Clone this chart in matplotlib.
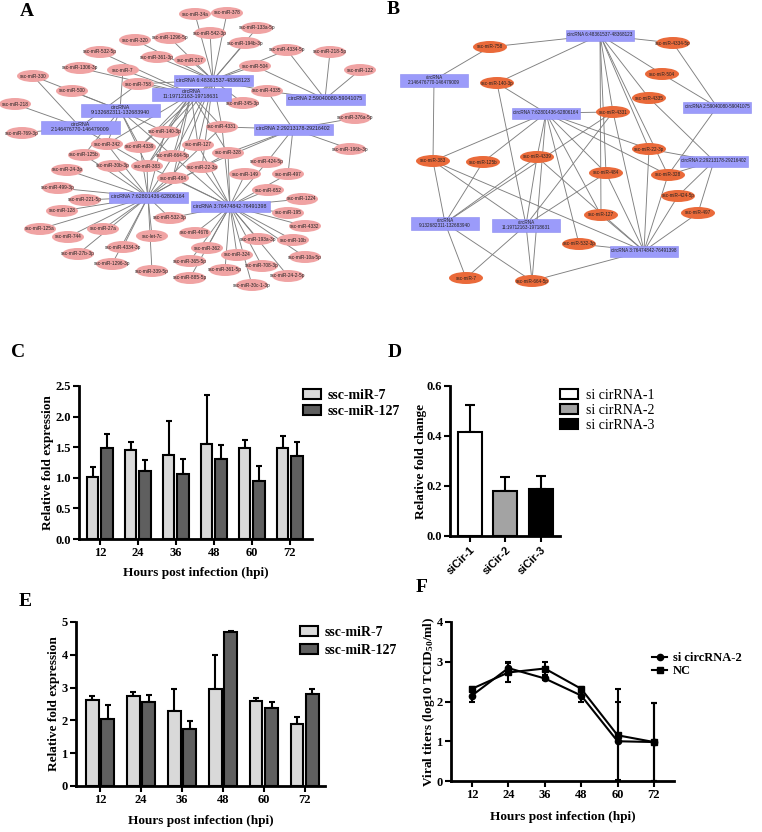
import matplotlib
matplotlib.use('Agg')
import matplotlib.pyplot as plt
from matplotlib.patches import Ellipse, Rectangle, Patch
from matplotlib.lines import Line2D
import numpy as np

plt.rcParams['font.family'] = ['Liberation Serif', 'DejaVu Serif']
plt.rcParams['mathtext.fontset'] = 'custom'
plt.rcParams['mathtext.rm'] = 'Liberation Serif:bold'
plt.rcParams['mathtext.bf'] = 'Liberation Serif:bold'
plt.rcParams['mathtext.it'] = 'Liberation Serif:bold'
plt.rcParams['mathtext.default'] = 'rm'

#### data ####

hours = ['12', '24', '36', '48', '60', '72']
hpi = [12, 24, 36, 48, 60, 72]

# C: qPCR, first series
c_mir7 = [1.01, 1.46, 1.37, 1.55, 1.49, 1.48]
c_mir7_err = [0.16, 0.13, 0.56, 0.80, 0.12, 0.21]
c_mir127 = [1.49, 1.11, 1.06, 1.30, 0.95, 1.36]
c_mir127_err = [0.23, 0.18, 0.25, 0.23, 0.24, 0.22]

# D: siRNA knockdown
d_groups = ['siCir-1', 'siCir-2', 'siCir-3']
d_names = ['si cirRNA-1', 'si cirRNA-2', 'si cirRNA-3']
d_vals = [0.415, 0.181, 0.189]
d_err = [0.109, 0.055, 0.050]

# E: qPCR, second series
e_mir7 = [2.62, 2.75, 2.28, 2.97, 2.60, 1.90]
e_mir7_err = [0.12, 0.12, 0.67, 1.02, 0.07, 0.21]
e_mir127 = [2.03, 2.57, 1.75, 4.70, 2.39, 2.81]
e_mir127_err = [0.45, 0.20, 0.24, 0.02, 0.16, 0.15]

# F: viral titers
f_si = [2.15, 2.84, 2.58, 2.15, 1.00, 0.98]
f_si_err = [0.17, 0.16, 0.05, 0.17, 0.98, 0.99]
f_nc = [2.32, 2.73, 2.83, 2.32, 1.15, 0.98]
f_nc_err = [0.04, 0.24, 0.17, 0.04, 1.17, 0.99]

# network hubs (circRNAs)
hub_names = {
    'c6': 'circRNA 6:48361537-48368123',
    'c11': 'circRNA\n11:19712163-19718631',
    'c9': 'circRNA\n9:132682311-132683940',
    'c2a': 'circRNA\n2:146476770-146479009',
    'c2b': 'circRNA 2:59040080-59041075',
    'c2c': 'circRNA 2:29213178-29216402',
    'c7': 'circRNA 7:62801436-62806164',
    'c3': 'circRNA 3:76474842-76491398',
}

# A: full circRNA-miRNA network
edges_a = {
    'c6': ['34a', '378', '542-3p', '133a-5p', '194b-3p', '4334-5p', '217', '504', '4335',
           '345-3p', '1296-5p', '320', '361-3p', '758', '140-3p', '4331', '127', '22-3p',
           '484', '664-5p', '383', '4339'],
    'c11': ['532-5p', '1306-3p', '7', '758', '140-3p', '4339', '383', '664-5p', '484',
            '127', '4331', '342', '345-3p', '328'],
    'c9': ['500', '330', '7', '125b', '4339', '383', '664-5p', '342', '140-3p'],
    'c2a': ['218', '769-3p', '330', '758', '383'],
    'c2b': ['4334-5p', '218-5p', '122', '504', '4335'],
    'c2c': ['4335', '376a-5p', '196b-3p', '328', '424-5p', '497', '22-3p', '4331'],
    'c7': ['125b', '30b-3p', '383', '484', '24-3p', '499-3p', '221-5p', '128', '125a', '744',
           '27a', 'let-7c', '4334-3p', '27b-3p', '1296-3p', '339-5p', '532-3p', '140-3p',
           '4339', '342', '22-3p', '328', '4331', '664-5p'],
    'c3': ['328', '22-3p', '424-5p', '149', '497', '652', '1224', '195', '4332', '4676',
           '193a-3p', '10b', '362', '10a-5p', '365-5p', '324', '708-3p', '361-5p', '24-2-5p',
           '885-5p', '30c-1-3p', '532-3p', '127', '484', '4331', '664-5p', '383'],
}

# B: shared sub-network
edges_b = {
    'c2a': ['758', '383'],
    'c6': ['758', '140-3p', '4334-5p', '504', '4335', '4331', '22-3p', '127', '484', '328'],
    'c2b': ['4334-5p', '504', '328'],
    'c7': ['140-3p', '383', '125b', '4339', '4331', '22-3p', '484', '127', '328', '532-3p', '664-5p'],
    'c2c': ['4335', '328', '424-5p', '497', '22-3p'],
    'c3': ['532-3p', '127', '484', '328', '424-5p', '497', '22-3p', '4331', '383', '664-5p', '4339'],
    'c9': ['383', '125b', '4339', '7', '664-5p', '4331'],
    'c11': ['140-3p', '383', '4339', '7', '664-5p', '4331', '484'],
}

# layout (pixel positions of the network nodes)
pos_a = {
    'c6': (213, 80), 'c11': (191, 94), 'c9': (120, 110), 'c2a': (80, 127),
    'c2b': (325, 99), 'c2c': (293, 129), 'c7': (148, 197), 'c3': (230, 206),
    '34a': (195, 14), '378': (227, 13), '542-3p': (210, 33), '133a-5p': (257, 28),
    '194b-3p': (245, 43), '4334-5p': (287, 50), '218-5p': (330, 52), '217': (190, 60),
    '504': (255, 66), '122': (360, 70), '4335': (267, 91), '345-3p': (243, 103),
    '376a-5p': (355, 118), '4331': (222, 127), '127': (198, 145), '328': (228, 153),
    '196b-3p': (350, 149), '320': (135, 40), '1296-5p': (170, 38), '532-5p': (100, 52),
    '361-3p': (157, 57), '1306-3p': (80, 68), '7': (123, 70), '330': (33, 76),
    '500': (72, 91), '758': (138, 84), '218': (15, 104), '769-3p': (22, 133),
    '140-3p': (165, 132), '342': (107, 144), '4339': (140, 147), '664-5p': (173, 156),
    '125b': (84, 155), '30b-3p': (113, 166), '383': (147, 166), '484': (173, 178),
    '24-3p': (67, 170), '499-3p': (58, 188), '221-5p': (85, 200), '128': (62, 211),
    '532-3p': (170, 218), '125a': (40, 229), '744': (68, 237), '27a': (103, 229),
    'let-7c': (152, 236), '4334-3p': (123, 247), '27b-3p': (78, 254), '1296-3p': (112, 264),
    '339-5p': (152, 271), '22-3p': (202, 167), '424-5p': (267, 162), '149': (245, 174),
    '497': (288, 174), '652': (268, 190), '1224': (302, 199), '195': (288, 213),
    '4332': (305, 226), '4676': (195, 233), '193a-3p': (258, 239), '10b': (293, 240),
    '362': (207, 248), '10a-5p': (305, 257), '365-5p': (190, 261), '324': (237, 255),
    '708-3p': (262, 266), '361-5p': (225, 270), '24-2-5p': (288, 276), '885-5p': (190, 278),
    '30c-1-3p': (252, 285),
}
pos_b = {
    'c2a': (434, 80), 'c6': (600, 35), 'c7': (546, 113), 'c2b': (717, 107),
    'c2c': (714, 161), 'c9': (445, 223), 'c11': (526, 225), 'c3': (644, 251),
    '758': (490, 47), '140-3p': (497, 83), '4334-5p': (673, 43), '504': (662, 74),
    '4335': (649, 98), '4331': (613, 112), '22-3p': (649, 149), '383': (433, 161),
    '125b': (483, 162), '4339': (537, 157), '484': (606, 173), '328': (668, 175),
    '424-5p': (678, 196), '497': (698, 213), '127': (601, 215), '532-3p': (579, 244),
    '7': (466, 278), '664-5p': (532, 281),
}


def mir_label(k):
    return 'ssc-let-7c' if k == 'let-7c' else 'ssc-miR-' + k


def draw_network(ax, edges, pos, mir_color, ew, eh, box_w, mfs, bfs):
    for hub, mirs in edges.items():
        hx, hy = pos[hub]
        for m in mirs:
            mx, my = pos[m]
            ax.plot([hx, mx], [hy, my], color='#7f7f7f', lw=0.65, zorder=1)
    mirs_all = sorted({m for v in edges.values() for m in v})
    for m in mirs_all:
        x, y = pos[m]
        ax.add_patch(Ellipse((x, y), ew, eh, facecolor=mir_color, edgecolor='none', zorder=2))
        ax.text(x, y, mir_label(m), fontsize=mfs, ha='center', va='center',
                family='Liberation Sans', color='#222222', zorder=3)
    for hub in edges:
        x, y = pos[hub]
        label = hub_names[hub]
        h = 13 if '\n' in label else 11
        ax.add_patch(Rectangle((x - box_w / 2, y - h / 2), box_w, h, facecolor='#9b9bfa',
                               edgecolor='#8a8af0', lw=0.4, zorder=2))
        ax.text(x, y, label, fontsize=bfs, ha='center', va='center', linespacing=1.2,
                family='Liberation Sans', color='#222222', zorder=3)


fig = plt.figure(figsize=(7.62, 8.32), dpi=100)

# networks drawn in pixel units
net = fig.add_axes([0, 1 - 300 / 832, 1, 300 / 832])
net.set_xlim(0, 762)
net.set_ylim(300, 0)
net.axis('off')
draw_network(net, edges_a, pos_a, '#f0a3a3', 32, 12, 79, 3.4, 3.8)
draw_network(net, edges_b, pos_b, '#ea6a3a', 34, 12, 68, 3.3, 3.3)


def px_axes(x0, x1, ytop, ybot):
    return fig.add_axes([x0 / 762, 1 - ybot / 832, (x1 - x0) / 762, (ybot - ytop) / 832])


def style(ax):
    for s in ['top', 'right']:
        ax.spines[s].set_visible(False)
    for s in ['left', 'bottom']:
        ax.spines[s].set_linewidth(2)
    ax.tick_params(direction='out', length=4, width=1.5, pad=2)
    for lab in ax.get_xticklabels() + ax.get_yticklabels():
        lab.set_fontweight('bold')
        lab.set_fontsize(9)


def bars(ax, v1, e1, v2, e2, off, w):
    x = np.arange(len(hours))
    ax.bar(x - off, v1, w, color='#d9d9d9', edgecolor='black', lw=1.5, zorder=2)
    ax.bar(x + off, v2, w, color='#5f5f5f', edgecolor='black', lw=1.5, zorder=2)
    ax.errorbar(x - off, v1, yerr=[np.zeros(6), e1], fmt='none', ecolor='black',
                elinewidth=1.5, capsize=2.5, capthick=1.5, zorder=1)
    ax.errorbar(x + off, v2, yerr=[np.zeros(6), e2], fmt='none', ecolor='black',
                elinewidth=1.5, capsize=2.5, capthick=1.5, zorder=1)
    ax.set_xticks(x)
    ax.set_xticklabels(hours)


mir_handles = [Patch(facecolor='#d9d9d9', edgecolor='black', lw=1.5),
               Patch(facecolor='#5f5f5f', edgecolor='black', lw=1.5)]
mir_labels = ['ssc-miR-7', 'ssc-miR-127']
lab_kw = dict(fontsize=9.5, fontweight='bold', va='center')

# C
axc = px_axes(79, 312, 386, 539)
bars(axc, c_mir7, c_mir7_err, c_mir127, c_mir127_err, 0.19, 0.3)
axc.set_xlim(-0.55, 5.58)
axc.set_ylim(0, 2.5)
axc.set_yticks([0, 0.5, 1.0, 1.5, 2.0, 2.5])
axc.set_yticklabels(['0.0', '0.5', '1.0', '1.5', '2.0', '2.5'])
style(axc)
axc.set_ylabel('Relative fold expression', **lab_kw)
axc.yaxis.set_label_coords(-0.133, 0.5)
axc.set_xlabel('Hours post infection (hpi)', **lab_kw)
axc.xaxis.set_label_coords(0.5, -0.222)
fig.legend(mir_handles, mir_labels, loc='upper left', bbox_to_anchor=(303 / 762, 1 - 389 / 832),
           frameon=False, borderpad=0, borderaxespad=0, handlelength=1.3, handleheight=0.75,
           labelspacing=0.2, handletextpad=0.5, prop={'weight': 'bold', 'size': 10})

# D
axd = px_axes(450, 560, 386, 536)
xd = np.arange(3)
axd.bar(xd, d_vals, 0.68, color=['white', '#a3a3a3', 'black'], edgecolor='black', lw=1.5, zorder=2)
axd.errorbar(xd, d_vals, yerr=[np.zeros(3), d_err], fmt='none', ecolor='black',
             elinewidth=1.5, capsize=3.5, capthick=1.5, zorder=1)
axd.set_xlim(-0.56, 2.54)
axd.set_ylim(0, 0.6)
axd.set_yticks([0, 0.2, 0.4, 0.6])
axd.set_yticklabels(['0.0', '0.2', '0.4', '0.6'])
axd.set_xticks(xd)
axd.set_xticklabels(d_groups)
style(axd)
for lab in axd.get_xticklabels():
    lab.set_rotation(45)
    lab.set_ha('right')
    lab.set_rotation_mode('anchor')
    lab.set_fontweight('bold')
    lab.set_family('Liberation Sans')
    lab.set_fontsize(8)
axd.set_ylabel('Relative fold change', **lab_kw)
axd.yaxis.set_label_coords(-0.26, 0.5)
fig.legend([Patch(facecolor=c, edgecolor='black', lw=1.5) for c in ['white', '#a3a3a3', 'black']],
           d_names, loc='upper left', bbox_to_anchor=(560 / 762, 1 - 389 / 832),
           frameon=False, borderpad=0, borderaxespad=0, handlelength=1.3, handleheight=0.75,
           labelspacing=0.15, handletextpad=0.6, prop={'size': 10})

# E
axe = px_axes(76, 325, 622, 786)
bars(axe, e_mir7, e_mir7_err, e_mir127, e_mir127_err, 0.185, 0.3)
axe.set_xlim(-0.585, 5.49)
axe.set_ylim(0, 5)
axe.set_yticks(range(6))
style(axe)
axe.set_ylabel('Relative fold expression', **lab_kw)
axe.yaxis.set_label_coords(-0.088, 0.5)
axe.set_xlabel('Hours post infection (hpi)', **lab_kw)
axe.xaxis.set_label_coords(0.5, -0.213)
fig.legend(mir_handles, mir_labels, loc='upper left', bbox_to_anchor=(300 / 762, 1 - 626 / 832),
           frameon=False, borderpad=0, borderaxespad=0, handlelength=1.3, handleheight=0.75,
           labelspacing=0.35, handletextpad=0.5, prop={'weight': 'bold', 'size': 10})

# F
axf = px_axes(451, 674, 622, 781)
axf.errorbar(hpi, f_si, yerr=f_si_err, color='black', lw=1.5, marker='o', ms=4.5,
             capsize=2.5, capthick=1.5, elinewidth=1.5, label='si circRNA-2')
axf.errorbar(hpi, f_nc, yerr=f_nc_err, color='black', lw=1.5, marker='s', ms=4.5,
             capsize=2.5, capthick=1.5, elinewidth=1.5, label='NC')
axf.set_xlim(5.1, 78.6)
axf.set_ylim(0, 4)
axf.set_xticks(hpi)
axf.set_yticks(range(5))
style(axf)
axf.set_ylabel('Viral titers (log10 TCID$_{50}$/ml)', **lab_kw)
axf.yaxis.set_label_coords(-0.1, 0.5)
axf.set_xlabel('Hours post infection (hpi)', **lab_kw)
axf.xaxis.set_label_coords(0.5, -0.226)
fig.legend([Line2D([], [], color='black', marker='o', ms=4.5, lw=1.5),
            Line2D([], [], color='black', marker='s', ms=4.5, lw=1.5)],
           ['si circRNA-2', 'NC'], loc='upper left', bbox_to_anchor=(652 / 762, 1 - 652 / 832),
           frameon=False, borderpad=0, borderaxespad=0, handlelength=1.2,
           labelspacing=0.1, handletextpad=0.5, prop={'weight': 'bold', 'size': 9})

# panel letters
for letter, x, y in [('A', 27, 11), ('B', 393, 9), ('C', 18, 352), ('D', 395, 352),
                     ('E', 25, 602), ('F', 422, 588)]:
    fig.text(x / 762, 1 - y / 832, letter, fontsize=14, fontweight='bold', ha='center', va='center')

plt.savefig('out.png', dpi=100)
